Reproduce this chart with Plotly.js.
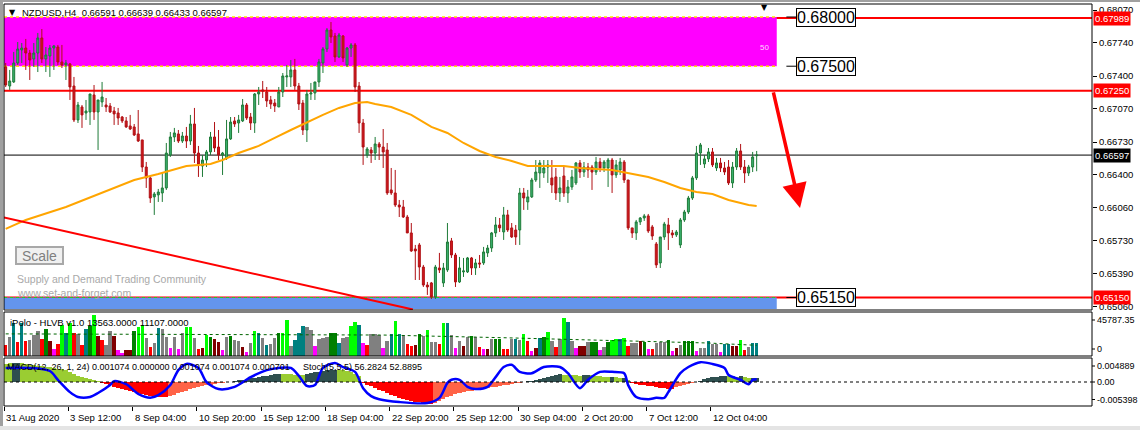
<!DOCTYPE html>
<html><head><meta charset="utf-8">
<script src="https://cdn.plot.ly/plotly-3.0.1.min.js"></script>
<style>html,body{margin:0;padding:0;background:#fff;}#chart{width:1140px;height:430px;}</style>
</head><body><div id="chart"></div>
<script>
// ---------- price candles (NZDUSD H4) ----------
const open = [
0.67492,0.67299,0.67340,0.67533,0.67665,0.67685,0.67634,0.67574,0.67634,0.67787,
0.67574,0.67604,0.67685,0.67695,0.67543,0.67513,0.67523,0.67299,0.66954,0.67086,
0.67025,0.67035,0.67208,0.67035,0.67137,0.67106,0.67096,0.67045,0.67025,0.66984,
0.66944,0.66893,0.66883,0.66812,0.66751,0.66476,0.66365,0.66172,0.66192,0.66212,
0.66263,0.66598,0.66781,0.66812,0.66740,0.66791,0.66740,0.66913,0.66618,0.66486,
0.66547,0.66629,0.66781,0.66679,0.66598,0.66568,0.66761,0.66944,0.66923,0.66944,
0.67106,0.66984,0.66923,0.67218,0.67259,0.67238,0.67157,0.67126,0.67086,0.67238,
0.67391,0.67391,0.67462,0.67299,0.67126,0.66852,0.67218,0.67228,0.67340,0.67533,
0.67675,0.67868,0.67807,0.67594,0.67807,0.67513,0.67685,0.67716,0.67299,0.66923,
0.66598,0.66649,0.66618,0.66710,0.66679,0.66649,0.66243,0.66212,0.66090,0.66070,
0.65968,0.65806,0.65643,0.65684,0.65460,0.65277,0.65298,0.65156,0.65450,0.65298,
0.65430,0.65725,0.65582,0.65308,0.65410,0.65410,0.65552,0.65450,0.65501,0.65501,
0.65603,0.65653,0.65806,0.65887,0.65816,0.65989,0.65857,0.65836,0.65836,0.66212,
0.66121,0.66172,0.66344,0.66415,0.66415,0.66476,0.66365,0.66375,0.66212,0.66385,
0.66212,0.66273,0.66314,0.66517,0.66425,0.66476,0.66476,0.66425,0.66527,0.66466,
0.66466,0.66547,0.66395,0.66446,0.66527,0.66344,0.65857,0.65806,0.65918,0.65958,
0.65979,0.65867,0.65694,0.65501,0.65765,0.65887,0.65806,0.65786,0.65684,0.65938,
0.66019,0.66161,0.66365,0.66618,0.66507,0.66558,0.66629,0.66466,0.66517,0.66466,
0.66476,0.66314,0.66476,0.66639,0.66476,0.66415,0.66476,0.66591];
const high = [
0.67533,0.67462,0.67645,0.67746,0.67736,0.67777,0.67665,0.67736,0.67838,0.67878,
0.67695,0.67716,0.67716,0.67716,0.67716,0.67563,0.67533,0.67391,0.67137,0.67106,
0.67157,0.67218,0.67309,0.67157,0.67340,0.67177,0.67126,0.67086,0.67076,0.66994,
0.66984,0.67005,0.66913,0.67055,0.66751,0.66527,0.66375,0.66222,0.66253,0.66415,
0.66720,0.66832,0.66873,0.66852,0.66832,0.66883,0.67005,0.67076,0.66690,0.66598,
0.66649,0.66832,0.66933,0.66852,0.66629,0.66954,0.66984,0.66984,0.67005,0.67167,
0.67126,0.67025,0.67228,0.67289,0.67350,0.67289,0.67198,0.67167,0.67289,0.67431,
0.67513,0.67563,0.67574,0.67330,0.67157,0.67259,0.67330,0.67340,0.67574,0.67695,
0.67888,0.67949,0.67838,0.67838,0.67817,0.67695,0.67736,0.67736,0.67340,0.66964,
0.66679,0.66679,0.66781,0.66730,0.66862,0.66720,0.66466,0.66446,0.66141,0.66141,
0.65989,0.65907,0.65684,0.65704,0.65481,0.65308,0.65308,0.65481,0.65603,0.65501,
0.65907,0.65755,0.65603,0.65562,0.65552,0.65562,0.65562,0.65542,0.65582,0.65664,
0.65684,0.65816,0.65968,0.65958,0.66070,0.66040,0.65907,0.65887,0.66263,0.66263,
0.66243,0.66365,0.66547,0.66547,0.66547,0.66547,0.66547,0.66466,0.66375,0.66476,
0.66344,0.66446,0.66527,0.66547,0.66527,0.66517,0.66497,0.66578,0.66568,0.66547,
0.66568,0.66568,0.66547,0.66568,0.66547,0.66344,0.65857,0.65938,0.65968,0.65999,
0.65999,0.65887,0.65714,0.65765,0.65918,0.65958,0.65836,0.65836,0.65958,0.66040,
0.66182,0.66385,0.66690,0.66720,0.66598,0.66669,0.66669,0.66568,0.66568,0.66527,
0.66547,0.66527,0.66669,0.66710,0.66547,0.66497,0.66629,0.66639];
const low = [
0.67289,0.67259,0.67330,0.67513,0.67533,0.67462,0.67360,0.67492,0.67441,0.67533,
0.67441,0.67391,0.67462,0.67513,0.67482,0.67360,0.67157,0.66933,0.66923,0.66873,
0.66954,0.66903,0.66954,0.66649,0.67086,0.67035,0.67025,0.66903,0.66903,0.66923,
0.66873,0.66852,0.66791,0.66730,0.66425,0.66263,0.66111,0.65989,0.66121,0.66121,
0.66243,0.66578,0.66730,0.66720,0.66720,0.66669,0.66700,0.66517,0.66375,0.66375,
0.66476,0.66598,0.66629,0.66547,0.66395,0.66547,0.66751,0.66883,0.66822,0.66933,
0.66954,0.66852,0.66822,0.67106,0.67177,0.67086,0.67066,0.67035,0.67086,0.67187,
0.67289,0.67289,0.67259,0.67055,0.66801,0.66730,0.67157,0.67157,0.67289,0.67431,
0.67645,0.67736,0.67543,0.67584,0.67543,0.67492,0.67594,0.67238,0.66822,0.66497,
0.66568,0.66517,0.66547,0.66547,0.66466,0.66192,0.66192,0.66070,0.65968,0.65958,
0.65806,0.65613,0.65328,0.65328,0.65257,0.65176,0.65135,0.65135,0.65399,0.65257,
0.65410,0.65552,0.65257,0.65298,0.65359,0.65399,0.65379,0.65379,0.65450,0.65481,
0.65562,0.65613,0.65765,0.65816,0.65735,0.65816,0.65755,0.65684,0.65684,0.66040,
0.66040,0.66161,0.66324,0.66263,0.66365,0.66314,0.66212,0.66141,0.66121,0.66172,
0.66111,0.66243,0.66293,0.66365,0.66375,0.66365,0.66243,0.66395,0.66425,0.66425,
0.66273,0.66212,0.66365,0.66395,0.66314,0.65836,0.65755,0.65735,0.65887,0.65928,
0.65806,0.65735,0.65450,0.65450,0.65735,0.65633,0.65755,0.65765,0.65653,0.65918,
0.65999,0.66141,0.66344,0.66497,0.66466,0.66527,0.66476,0.66436,0.66425,0.66395,
0.66293,0.66263,0.66446,0.66446,0.66314,0.66385,0.66425,0.66433];
const close = [
0.67309,0.67350,0.67533,0.67675,0.67685,0.67634,0.67563,0.67634,0.67787,0.67574,
0.67614,0.67685,0.67706,0.67543,0.67513,0.67533,0.67289,0.66954,0.67106,0.67005,
0.67045,0.67218,0.67035,0.67157,0.67187,0.67086,0.67035,0.67015,0.66974,0.66944,
0.66883,0.66862,0.66801,0.66740,0.66476,0.66365,0.66161,0.66202,0.66222,0.66263,
0.66618,0.66781,0.66822,0.66740,0.66791,0.66740,0.66913,0.66618,0.66497,0.66547,
0.66629,0.66781,0.66669,0.66598,0.66618,0.66761,0.66933,0.66913,0.66954,0.67106,
0.66974,0.66923,0.67218,0.67238,0.67248,0.67147,0.67116,0.67096,0.67238,0.67401,
0.67401,0.67462,0.67299,0.67116,0.66852,0.67218,0.67228,0.67340,0.67543,0.67675,
0.67868,0.67797,0.67594,0.67817,0.67584,0.67685,0.67716,0.67289,0.66923,0.66679,
0.66659,0.66618,0.66710,0.66679,0.66629,0.66212,0.66212,0.66090,0.66070,0.65968,
0.65806,0.65623,0.65623,0.65460,0.65277,0.65257,0.65156,0.65460,0.65430,0.65450,
0.65714,0.65582,0.65308,0.65450,0.65420,0.65552,0.65450,0.65501,0.65491,0.65613,
0.65653,0.65806,0.65887,0.65857,0.65989,0.65836,0.65765,0.65765,0.66212,0.66161,
0.66172,0.66344,0.66425,0.66517,0.66466,0.66497,0.66293,0.66212,0.66263,0.66212,
0.66273,0.66375,0.66517,0.66425,0.66476,0.66446,0.66425,0.66527,0.66466,0.66527,
0.66547,0.66395,0.66497,0.66527,0.66344,0.65857,0.65806,0.65918,0.65958,0.65979,
0.65826,0.65775,0.65481,0.65765,0.65897,0.65806,0.65786,0.65816,0.65938,0.66019,
0.66161,0.66365,0.66618,0.66700,0.66558,0.66629,0.66497,0.66517,0.66466,0.66425,
0.66314,0.66476,0.66639,0.66476,0.66415,0.66476,0.66578,0.66597];

// orange moving average (bar index, price)
const maIdx = [0,5,15,24,32,38,45,51,54,58,63,67,71,79,83,87,90,92,96,101,106,110,114,118,122,126,130,139,143,151,155,160,164,168,172,176,180,185,187];
const maVal = [0.65847,0.65938,0.66070,0.66212,0.66344,0.66405,0.66486,0.66507,0.66547,0.66618,0.66690,0.66771,0.66852,0.67005,0.67076,0.67126,0.67137,0.67116,0.67086,0.67005,0.66883,0.66822,0.66720,0.66639,0.66578,0.66537,0.66486,0.66486,0.66466,0.66446,0.66415,0.66375,0.66324,0.66263,0.66222,0.66202,0.66141,0.66090,0.66080];

// ---------- iPolo HLVB volume ----------
const volume = [
11440,20110,33970,14910,33970,15600,16640,21840,26350,17330,
28080,15600,6930,12830,32240,23570,33970,23570,22880,11440,
28080,31550,42640,20800,16640,11440,26350,20800,6240,3470,
6240,6240,26350,30510,32240,18370,9710,13170,28770,27730,
19410,7970,20110,7280,24270,29810,30510,19070,7280,7970,
21840,19410,17330,14910,6240,19410,20800,16640,15950,9710,
4510,13170,26350,23570,18370,11440,12130,18370,23570,23570,
37180,10400,16640,23570,31200,29810,27040,10400,17330,19070,
20110,23570,23570,13170,18370,20110,31200,35710,32240,13870,
11440,22880,22880,
21840,7970,15950,22880,36400,22880,21840,12480,10400,11440,
22880,20800,27040,14210,14910,12130,33970,34670,21840,8670,
15600,10400,19410,20800,20110,9710,6930,7630,17330,17680,
17680,7630,7630,17330,17680,16640,22880,15950,5550,8670,
18370,20110,25310,15600,9710,17680,39870,35710,15600,8670,
10750,10750,14910,14910,14910,6240,9710,14910,16640,17330,
17330,18370,10400,13170,13870,15600,14910,7280,7280,13170,
14210,14910,16640,5550,7970,11440,15600,15600,15600,5550,
8670,8670,15600,12130,12130,4510,12480,12480,10400,10400,
16640,6240,9710,13870,13563];
const volumeColor = [
'r','g','t','r','t','r','g','g','g','r',
'd','m','p','r','l','t','l','r','g','r',
't','d','l','m','r','g','g','m','p','p',
'm','m','d','l','l','g','r','g','t','g',
'g','p','g','p','g','l','l','g','r','m',
'l','d','m','m','p','g','d','g','g','m',
'p','g','l','t','g','t','g','g','d','l',
'l','g','t','t','t','g','g','p','g','g',
'g','d','d','t','g','g','l','l','t','p',
'r','g','g',
'g','p','g','t','l','t','g','r','r','m',
'd','g','l','g','g','r','l','t','g','p',
'g','m','g','d','g','r','p','m','g','d',
'd','r','r','g','t','g','l','r','p','m',
't','d','l','g','r','g','l','t','g','p',
'm','m','g','d','d','p','g','d','l','l',
't','l','r','g','g','m','d','p','r','g',
'g','g','d','p','m','g','d','d','d','p',
'g','g','t','g','g','p','t','t','m','m',
'l','r','g','t','t'];
const volMaIdx = [0,47,94,124,150,175,187];
const volMaVal = [23000,22500,21800,19000,16500,13500,11107];

// ---------- MACD(12,26,1,24) histogram & Stoch(5,5,5) ----------
const macdHist = [
0.0055,0.0056,0.0057,0.0058,0.0056,0.0054,0.0052,0.0050,0.0049,0.0048,
0.0046,0.0044,0.0042,0.0040,0.0038,0.0036,0.0030,0.0024,0.0019,0.0015,
0.0011,0.0008,0.0005,0.0002,-0.0003,-0.0007,-0.0010,-0.0014,-0.0017,-0.0021,
-0.0024,-0.0028,-0.0031,-0.0034,-0.0037,-0.0039,-0.0041,-0.0043,-0.0044,-0.0045,
-0.0045,-0.0042,-0.0038,-0.0034,-0.0030,-0.0026,-0.0022,-0.0019,-0.0016,-0.0013,
-0.0010,-0.0008,-0.0006,-0.0004,-0.0003,-0.0001,0.0001,0.0003,0.0005,0.0007,
0.0009,0.0011,0.0013,0.0015,0.0017,0.0019,0.0021,0.0023,0.0024,0.0024,
0.0023,0.0023,0.0022,0.0022,0.0021,0.0023,0.0026,0.0029,0.0031,0.0033,
0.0035,0.0036,0.0037,0.0036,0.0035,0.0033,0.0030,0.0025,0.0018,-0.0003,
-0.0008,-0.0013,-0.0018,-0.0023,-0.0028,-0.0033,-0.0038,-0.0043,-0.0047,-0.0051,
-0.0054,-0.0057,-0.0060,-0.0062,-0.0064,-0.0065,-0.0066,-0.0063,-0.0057,-0.0051,
-0.0046,-0.0041,-0.0037,-0.0033,-0.0030,-0.0028,-0.0026,-0.0024,-0.0022,-0.0020,
-0.0018,-0.0016,-0.0014,-0.0012,-0.0010,-0.0008,-0.0006,-0.0004,-0.0002,-0.0001,
0.0002,0.0004,0.0007,0.0010,0.0013,0.0016,0.0019,0.0021,0.0023,0.0022,
0.0021,0.0020,0.0020,0.0019,0.0021,0.0022,0.0021,0.0019,0.0018,0.0016,
0.0015,0.0016,0.0014,0.0012,0.0013,0.0005,-0.0003,-0.0006,-0.0008,-0.0010,
-0.0011,-0.0013,-0.0015,-0.0017,-0.0019,-0.0020,-0.0020,-0.0016,-0.0012,-0.0009,
-0.0006,-0.0003,-0.0001,0.0004,0.0008,0.0011,0.0014,0.0016,0.0018,0.0019,
0.0018,0.0017,0.0016,0.0017,0.0015,0.0013,0.0012,0.001074];
const macdColorCodes = ('yy'+'ss'+'yyyyyyyyyyyyyyyyyyyy'+'rrrrrrrrrrrrrrrrr'+'ooooooooooooooo'+
  'sssssssssssss'+'yyyyyy'+'ssssssss'+'yyyyyy'+'rrrrrrrrrrrrrrrrrr'+'ooooooooooooooooooooooo'+
  'sssssssss'+'yyyyy'+'ss'+'yyyyy'+'s'+'yy'+'s'+'y'+'rrrrrrrrrrr'+'oooooo'+'sssssss'+'yyy'+'s'+'yy'+'ss').split('');
const stochIdx = [0,6,11,13,16,18,21,23,26,27,30,33,36,38,41,43,45,48,50,53,57,61,65,68,71,73,75,77,79,82,84,87,89,91,93,98,105,108,110,111,113,115,117,120,122,124,126,128,131,134,138,140,143,145,148,151,154,155,157,160,162,164,165,168,170,173,176,179,180,183,185,186,187];
const stochVal = [82,82,75,55,27,16,16,25,43,52,45,23,14,20,43,77,91,82,50,34,39,61,77,82,82,64,41,43,82,93,84,73,36,18,11,4.5,2.3,14,48,55,55,39,34,39,61,84,89,73,70,84,84,70,36,55,73,73,70,43,16,11,14,14,27,70,84,95,91,82,66,55,45,55,56.28];

// ---------- levels, zones, labels ----------
const priceTicks = [0.6807,0.6774,0.6740,0.6707,0.6673,0.6640,0.6606,0.6573,0.6539,0.6506];
const redLevels = [0.67989,0.67250,0.65150];
const lastPrice = 0.66597;
const supplyZone = [0.67500,0.68000];
const demandZone = [0.65034,0.65150];
const zoneEndIdx = 192;
const boxLevels = [0.68000,0.67500,0.65150];
const trendIdx = [-0.42,101.4];
const trendVal = [0.65963,0.65028];
const arrowTip = [197.8,0.66060];
const dateIdx = [0,16,32,48,64,80,96,112,128,144,160,176];
const dateText = ['31 Aug 2020','3 Sep 12:00','8 Sep 04:00','10 Sep 20:00','15 Sep 12:00','18 Sep 04:00',
  '22 Sep 20:00','25 Sep 12:00','30 Sep 04:00','2 Oct 20:00','7 Oct 12:00','12 Oct 04:00'];

// ---------- layout helpers ----------
const FONT = 'Liberation Sans, Arial, sans-serif';
const PX = x => (x - 4) / 1088;
const PY = y => (406 - y) / 402;
const XR = [-0.42, 270.5];
const idx = open.map((_, i) => i);
const vmap = {r:'#FF0000', g:'#808080', t:'#008080', l:'#00FF00', d:'#008000', m:'#800000', p:'#FF00FF'};
const hmap = {y:'#9ACD32', s:'#2F4F4F', r:'#FF0000', o:'#FF6347'};

const traces = [
  {type:'candlestick', x:idx, open:open, high:high, low:low, close:close, xaxis:'x', yaxis:'y',
   increasing:{line:{color:'#1E7B38', width:1}, fillcolor:'#3CB371'},
   decreasing:{line:{color:'#B01014', width:1}, fillcolor:'#D0181C'},
   whiskerwidth:0, hoverinfo:'skip', showlegend:false},
  {type:'scatter', mode:'lines', x:maIdx, y:maVal, xaxis:'x', yaxis:'y',
   line:{color:'#FFA500', width:2}, hoverinfo:'skip', showlegend:false},
  {type:'bar', x:idx, y:volume, xaxis:'x', yaxis:'y2', width:0.85,
   marker:{color:volumeColor.map(c => vmap[c]), line:{width:0}}, hoverinfo:'skip', showlegend:false},
  {type:'scatter', mode:'lines', x:volMaIdx, y:volMaVal, xaxis:'x', yaxis:'y2',
   line:{color:'#006400', width:1, dash:'3px,3px'}, hoverinfo:'skip', showlegend:false},
  {type:'bar', x:idx, y:macdHist, xaxis:'x', yaxis:'y3', width:1,
   marker:{color:macdColorCodes.map(c => hmap[c]), line:{width:0}}, hoverinfo:'skip', showlegend:false},
  {type:'scatter', mode:'lines', x:stochIdx, y:stochVal, xaxis:'x', yaxis:'y4',
   line:{color:'#0000FF', width:2.5, shape:'spline', smoothing:0.8}, hoverinfo:'skip', showlegend:false}
];

const shapes = [];
// window border strips
shapes.push({type:'rect', xref:'paper', yref:'paper', x0:PX(0), x1:PX(3), y0:PY(430), y1:PY(0), fillcolor:'#A0A0A0', line:{width:0}, layer:'below'});
shapes.push({type:'rect', xref:'paper', yref:'paper', x0:PX(0), x1:PX(1140), y0:PY(2), y1:PY(0), fillcolor:'#A0A0A0', line:{width:0}, layer:'below'});
shapes.push({type:'rect', xref:'paper', yref:'paper', x0:PX(0), x1:PX(1140), y0:PY(430), y1:PY(426), fillcolor:'#E4E4E4', line:{width:0}, layer:'below'});
// zones
shapes.push({type:'rect', xref:'x', yref:'y', x0:XR[0], x1:zoneEndIdx, y0:supplyZone[0], y1:supplyZone[1], fillcolor:'#FF00FF', line:{width:0}, layer:'below'});
shapes.push({type:'rect', xref:'x', yref:'y', x0:XR[0], x1:zoneEndIdx, y0:demandZone[0], y1:demandZone[1], fillcolor:'#6495ED', line:{width:0}, layer:'below'});
supplyZone.forEach(v => shapes.push({type:'line', xref:'x', yref:'y', x0:XR[0], x1:zoneEndIdx, y0:v, y1:v, line:{color:'#FFE400', width:1.5, dash:'3px,3px'}, layer:'below'}));
// red horizontal levels
redLevels.forEach(v => shapes.push({type:'line', xref:'paper', yref:'y', x0:0, x1:1, y0:v, y1:v, line:{color:'#FF0000', width:2}, layer:'below'}));
shapes.push({type:'line', xref:'x', yref:'y', x0:XR[0], x1:zoneEndIdx, y0:demandZone[1], y1:demandZone[1], line:{color:'#22CC22', width:1.2, dash:'3px,3px'}, layer:'below'});
// current price
shapes.push({type:'line', xref:'paper', yref:'y', x0:0, x1:1, y0:lastPrice, y1:lastPrice, line:{color:'#000000', width:1}, layer:'below'});
// trend line
shapes.push({type:'line', xref:'x', yref:'y', x0:trendIdx[0], x1:trendIdx[1], y0:trendVal[0], y1:trendVal[1], line:{color:'#FF0000', width:2}, layer:'above'});
// leader ticks for boxed levels
boxLevels.forEach(v => shapes.push({type:'line', xref:'x', yref:'y', x0:194.4, x1:196.9, y0:v, y1:v, line:{color:'#000', width:1}}));
// MACD zero line
shapes.push({type:'line', xref:'paper', yref:'y3', x0:0, x1:1, y0:0, y1:0, line:{color:'#000', width:1, dash:'3px,3px'}});
// panel frames
['y','y2','y3'].forEach(a => shapes.push({type:'rect', xref:'paper', yref:a+' domain', x0:0, x1:1, y0:0, y1:1, line:{color:'#000', width:1}, fillcolor:'rgba(0,0,0,0)'}));
// small right-side ticks for sub-window labels
[320,349,366,382,399.5].forEach(y => shapes.push({type:'line', xref:'paper', yref:'paper', x0:1, x1:PX(1095), y0:PY(y), y1:PY(y), line:{color:'#000', width:1}}));

const ann = [];
const small = {family:FONT, size:9.5, color:'#000'};
ann.push({xref:'paper', yref:'paper', x:PX(12), y:PY(12), text:'▼', showarrow:false, font:{family:'DejaVu Sans', size:8, color:'#000'}, xanchor:'center', yanchor:'middle'});
ann.push({xref:'paper', yref:'paper', x:PX(20), y:PY(12), text:'NZDUSD,H4  0.66591 0.66639 0.66433 0.66597', showarrow:false, font:small, xanchor:'left', yanchor:'middle'});
ann.push({xref:'paper', yref:'paper', x:PX(764), y:PY(7), text:'▼', showarrow:false, font:{family:'DejaVu Sans', size:8, color:'#000'}, xanchor:'center', yanchor:'middle'});
ann.push({xref:'paper', yref:'paper', x:PX(764), y:PY(47), text:'50', showarrow:false, font:{family:FONT, size:8, color:'#FFD8FF'}, xanchor:'center', yanchor:'middle'});
// boxed level labels
boxLevels.forEach(v => ann.push({xref:'x', yref:'y', x:196.8, y:v, text:v.toFixed(5), showarrow:false, xanchor:'left', yanchor:'middle',
  font:{family:FONT, size:16, color:'#000'}, bordercolor:'#000', borderwidth:1, borderpad:0, bgcolor:'#FFFFFF'}));
// right price tags
redLevels.forEach(v => ann.push({xref:'paper', yref:'y', x:1, xshift:1, y:v, text:v.toFixed(5), showarrow:false, xanchor:'left', yanchor:'middle',
  font:{family:FONT, size:9.5, color:'#FFFFFF'}, bgcolor:'#FF0000', borderpad:1}));
ann.push({xref:'paper', yref:'y', x:1, xshift:1, y:lastPrice, text:lastPrice.toFixed(5), showarrow:false, xanchor:'left', yanchor:'middle',
  font:{family:FONT, size:9.5, color:'#FFFFFF'}, bgcolor:'#000000', borderpad:1});
// scale button & watermark
ann.push({xref:'paper', yref:'paper', x:PX(39.5), y:PY(255), text:'Scale', showarrow:false, xanchor:'center', yanchor:'middle',
  width:45, height:15, borderpad:0, bordercolor:'#A8A8A8', borderwidth:2, bgcolor:'#F0F0F0', font:{family:FONT, size:14, color:'#7F7F7F'}});
ann.push({xref:'paper', yref:'paper', x:PX(15), y:PY(279), text:'Supply and Demand Trading Community', showarrow:false, xanchor:'left', yanchor:'middle', font:{family:FONT, size:10.5, color:'#A9A9A9'}});
ann.push({xref:'paper', yref:'paper', x:PX(15), y:PY(293), text:'www.set-and-forget.com', showarrow:false, xanchor:'left', yanchor:'middle', font:{family:FONT, size:10.5, color:'#A9A9A9'}});
// sub-window titles and labels
ann.push({xref:'paper', yref:'paper', x:PX(8), y:PY(322), text:'iPolo - HLVB v1.0 13563.0000 11107.0000', showarrow:false, xanchor:'left', yanchor:'middle', font:small});
ann.push({xref:'paper', yref:'paper', x:PX(5), y:PY(367), text:'MACD(12, 26, 1, 24) 0.001074 0.000000 0.001074 0.001074 0.000701', showarrow:false, xanchor:'left', yanchor:'middle', font:{family:FONT, size:9, color:'#000'}});
ann.push({xref:'paper', yref:'paper', x:PX(301), y:PY(367), text:'Stoch(5,5,5) 56.2824 52.8895', showarrow:false, xanchor:'left', yanchor:'middle', font:{family:FONT, size:9, color:'#000'}});
[['45787.35',320],['0',349],['0.004889',366],['0.00',382],['-0.005398',399.5]].forEach(p =>
  ann.push({xref:'paper', yref:'paper', x:PX(1095), y:PY(p[1]), text:p[0], showarrow:false, xanchor:'left', yanchor:'middle', font:{family:FONT, size:9, color:'#000'}}));
// date labels
dateIdx.forEach((d, k) => ann.push({xref:'x', yref:'paper', x:d - 0.42, y:PY(417), text:dateText[k], showarrow:false, xanchor:'left', yanchor:'middle', font:small}));
// red arrow
ann.push({xref:'x', yref:'y', x:arrowTip[0], y:arrowTip[1], ax:-27, ay:-117, text:'', showarrow:true, arrowhead:2, arrowsize:1.4, arrowwidth:3.5, arrowcolor:'#FF0000', standoff:0});

const layout = {
  width:1140, height:430, margin:{l:4, r:48, t:4, b:24},
  paper_bgcolor:'#FFFFFF', plot_bgcolor:'#FFFFFF', showlegend:false,
  font:{family:FONT, size:9.5, color:'#000'},
  xaxis:{range:XR, anchor:'y3', showgrid:false, zeroline:false, showline:false, rangeslider:{visible:false},
    tickmode:'array', tickvals:dateIdx.map(d => d - 0.42), ticks:'outside', ticklen:4, tickcolor:'#000', showticklabels:false, fixedrange:true},
  yaxis:{domain:[PY(310),1], range:[0.650231,0.681321], side:'right', anchor:'x', showgrid:false, zeroline:false, showline:false,
    tickmode:'array', tickvals:priceTicks, ticktext:priceTicks.map(v => v.toFixed(5)), ticks:'outside', ticklen:4, tickcolor:'#000',
    tickfont:{family:FONT, size:9.5, color:'#000'}, fixedrange:true},
  yaxis2:{domain:[PY(356),PY(312)], range:[0,45760], anchor:'x', visible:false, fixedrange:true},
  yaxis3:{domain:[0,PY(358)], range:[-0.007262,0.007262], anchor:'x', visible:false, fixedrange:true},
  yaxis4:{overlaying:'y3', range:[-4.5,104.5], anchor:'x', visible:false, fixedrange:true},
  bargap:0, shapes:shapes, annotations:ann
};
Plotly.newPlot('chart', traces, layout, {staticPlot:true, displayModeBar:false});
</script></body></html>
